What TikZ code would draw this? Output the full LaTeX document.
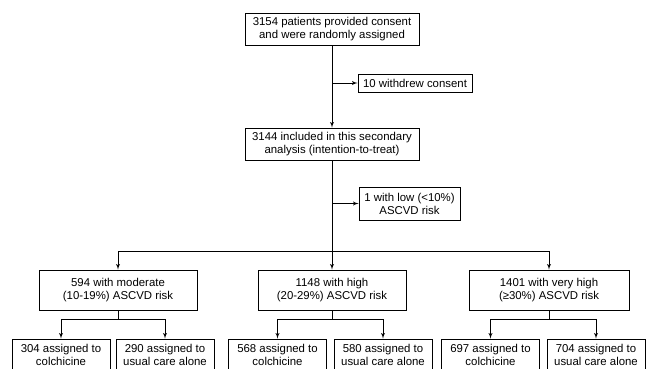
\documentclass[tikz,border=0pt]{standalone}
\usepackage{fontspec}
\setmainfont{Liberation Sans}
\usetikzlibrary{arrows,positioning}

\begin{document}
\begin{tikzpicture}[x=1pt, y=-1pt, line width=0.9pt,
    box/.style={draw, align=center, inner sep=1pt,
                font=\fontsize{11.4}{13}\selectfont},
    twin/.style={box, minimum width=98pt, minimum height=32pt}]
\useasboundingbox (0,0) rectangle (648,368);
\node (consent) [box,minimum width=174pt,minimum height=32pt] at (332,29)
    {3154 patients provided consent\\and were randomly assigned};
\node (withdrew) [box,minimum width=114pt,minimum height=18pt] at (415,83)
    {10 withdrew consent};
\node (included) [box,minimum width=174pt,minimum height=32pt] at (332,144)
    {3144 included in this secondary\\analysis (intention-to-treat)};
\node (low) [box,minimum width=101pt,minimum height=33pt] at (409.5,203.5)
    {1 with low (<10\%)\\ASCVD risk};
%
\node (mod)   [box,minimum width=158pt,minimum height=40pt] at (118,290)
    {594 with moderate\\(10-19\%) ASCVD risk};
\node (high)  [box,minimum width=148pt,minimum height=40pt] at (332,290)
    {1148 with high\\(20-29\%) ASCVD risk};
\node (vhigh) [box,minimum width=160pt,minimum height=40pt] at (549,290)
    {1401 with very high\\(≥30\%) ASCVD risk};
%
\node (c1) [twin] at (61,355)    {304 assigned to\\colchicine};
\node (u1) [twin] at (165,355)   {290 assigned to\\usual care alone};
\node (c2) [twin] at (277.5,355) {568 assigned to\\colchicine};
\node (u2) [twin] at (383,355)   {580 assigned to\\usual care alone};
\node (c3) [twin] at (490.5,355) {697 assigned to\\colchicine};
\node (u3) [twin] at (596,355)   {704 assigned to\\usual care alone};
%
\coordinate (split) at (332,251);
\draw[-latex'] (consent) -- (included);
\draw[-latex'] (consent.south |- withdrew) -- (withdrew);
\draw[-latex'] (included.south |- low) -- (low);
\draw (included) -- (split);
\foreach \r in {mod, high, vhigh}
    \draw[-latex'] (split) -| (\r);
\foreach \r [count=\xi from 1] in {mod, high, vhigh}
{
    \draw (\r.south) -- ++(0,9) coordinate (s\xi);
    \draw[-latex'] (s\xi) -| (c\xi);
    \draw[-latex'] (s\xi) -| (u\xi);
}
\end{tikzpicture}
\end{document}
